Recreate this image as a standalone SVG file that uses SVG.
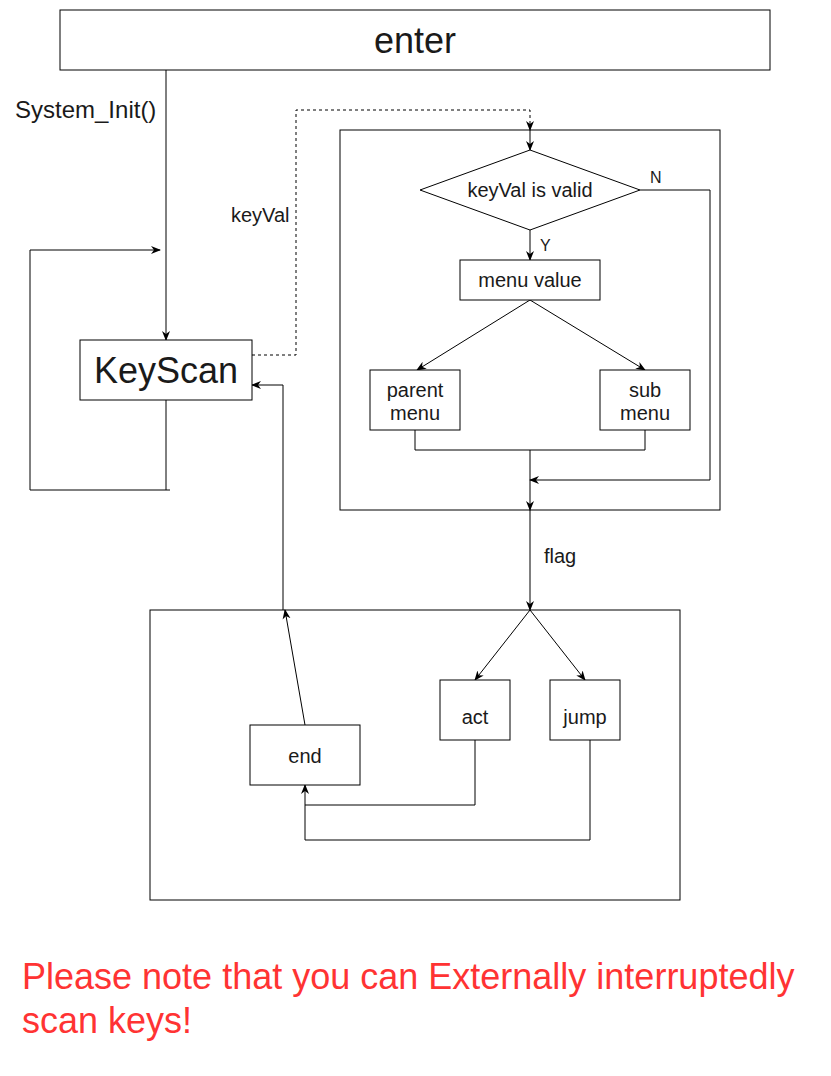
<svg xmlns="http://www.w3.org/2000/svg" width="831" height="1076" viewBox="0 0 831 1076">
<style>
.box{fill:#fff;stroke:#000;stroke-width:1}
.frame{fill:none;stroke:#000;stroke-width:1}
.ln{fill:none;stroke:#000;stroke-width:1}
.t{font-family:"Liberation Sans",Arial,sans-serif;fill:#1a1a1a;text-anchor:middle}
.lbl{font-family:"Liberation Sans",Arial,sans-serif;fill:#1a1a1a}
.note{font-family:"Liberation Sans",Arial,sans-serif;fill:#ff3333;font-size:36px}
</style>
<defs>
<marker id="a" viewBox="0 0 10 10" refX="9" refY="5" markerWidth="10" markerHeight="10" markerUnits="userSpaceOnUse" orient="auto">
<path d="M0,1 L10,5 L0,9 L3,5 Z" fill="#000"/>
</marker>
</defs>
<rect width="831" height="1076" fill="#fff"/>
<g id="frames">
<rect class="frame" x="340" y="130" width="380" height="380"/>
<rect class="frame" x="150" y="610" width="530" height="290"/>
</g>
<g id="connectors">
<path class="ln" d="M166,70 V340" marker-end="url(#a)"/>
<path class="ln" d="M166,400 V490 H30 V250 H160" marker-end="url(#a)"/>
<path class="ln" d="M166,490 H170"/>
<path class="ln" d="M252,355 H296 V110 H530 V130" stroke-dasharray="3,3" marker-end="url(#a)"/>
<path class="ln" d="M530,130 V150" marker-end="url(#a)"/>
<path class="ln" d="M530,230 V260" marker-end="url(#a)"/>
<path class="ln" d="M640,190 H710 V480 H530" marker-end="url(#a)"/>
<path class="ln" d="M530,300 L417,370" marker-end="url(#a)"/>
<path class="ln" d="M530,300 L645,370" marker-end="url(#a)"/>
<path class="ln" d="M415,430 V450 H645 V430"/>
<path class="ln" d="M530,450 V510" marker-end="url(#a)"/>
<path class="ln" d="M530,510 V610" marker-end="url(#a)"/>
<path class="ln" d="M530,610 L475,680" marker-end="url(#a)"/>
<path class="ln" d="M530,610 L585,680" marker-end="url(#a)"/>
<path class="ln" d="M475,740 V805 H305 V785" marker-end="url(#a)"/>
<path class="ln" d="M590,740 V840 H305 V805"/>
<path class="ln" d="M305,725 L285,610" marker-end="url(#a)"/>
<path class="ln" d="M283,610 V385 H252" stroke="#555" marker-end="url(#a)"/>
<text class="lbl" x="15" y="118" font-size="24">System_Init()</text>
<text class="lbl" x="231" y="222" font-size="20">keyVal</text>
<text class="lbl" x="650" y="183" font-size="16">N</text>
<text class="lbl" x="540" y="251" font-size="16">Y</text>
<text class="lbl" x="544" y="563" font-size="20">flag</text>
</g>
<g id="enter"><rect class="box" x="60" y="10" width="710" height="60"/><text class="t" x="415" y="53" font-size="36">enter</text></g>
<g id="keyscan"><rect class="box" x="80" y="340" width="172" height="60"/><text class="t" x="166" y="383" font-size="36">KeyScan</text></g>
<g id="valid"><polygon class="box" points="530,150 640,190 530,230 420,190"/><text class="t" x="530" y="197" font-size="20">keyVal is valid</text></g>
<g id="menuvalue"><rect class="box" x="460" y="260" width="140" height="40"/><text class="t" x="530" y="287" font-size="20">menu value</text></g>
<g id="parent"><rect class="box" x="370" y="370" width="90" height="60"/><text class="t" x="415" y="397" font-size="20">parent</text><text class="t" x="415" y="420" font-size="20">menu</text></g>
<g id="sub"><rect class="box" x="600" y="370" width="90" height="60"/><text class="t" x="645" y="397" font-size="20">sub</text><text class="t" x="645" y="420" font-size="20">menu</text></g>
<g id="act"><rect class="box" x="440" y="680" width="70" height="60"/><text class="t" x="475" y="724" font-size="20">act</text></g>
<g id="jump"><rect class="box" x="550" y="680" width="70" height="60"/><text class="t" x="585" y="724" font-size="20">jump</text></g>
<g id="end"><rect class="box" x="250" y="725" width="110" height="60"/><text class="t" x="305" y="763" font-size="20">end</text></g>
<g id="note">
<text class="note" x="22" y="989">Please note that you can Externally interruptedly</text>
<text class="note" x="22" y="1033">scan keys!</text>
</g>
</svg>
